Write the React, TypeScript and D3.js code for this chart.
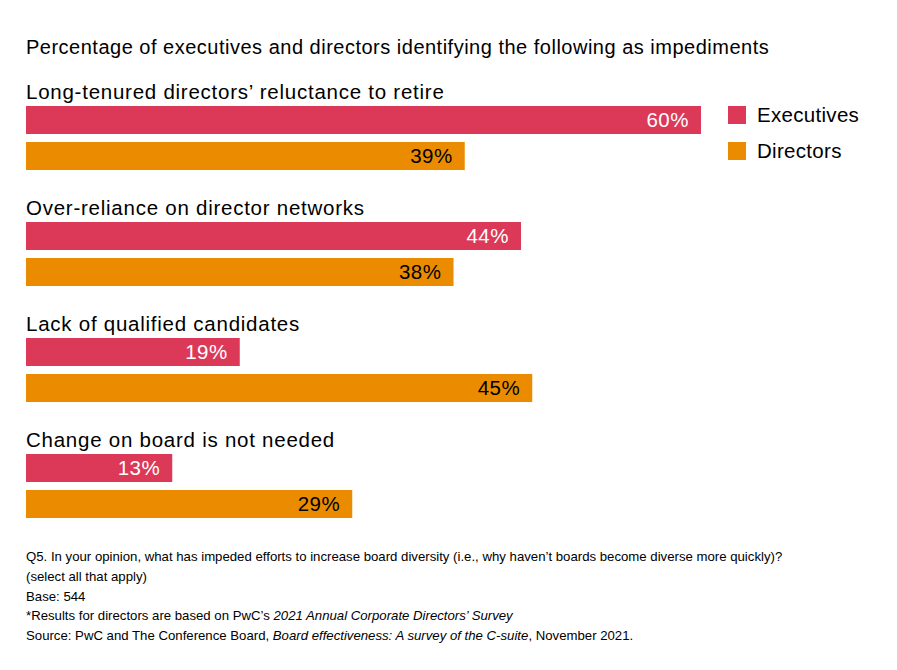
import React from "react";
import * as d3 from "d3";

const categories = [
  "Long-tenured directors’ reluctance to retire",
  "Over-reliance on director networks",
  "Lack of qualified candidates",
  "Change on board is not needed",
];
const executives = [60, 44, 19, 13];
const directors = [39, 38, 45, 29];
const seriesNames = ["Executives", "Directors"];
const colors = ["#DB3957", "#EB8C00"];
const labelColors = ["#ffffff", "#000000"];

export default function App() {
  const W = 897, H = 670;
  const x0 = 26;
  const x = d3.scaleLinear().domain([0, 60]).range([x0, 701]);
  const groupY = d3.scaleBand<number>().domain(d3.range(categories.length)).range([106, 106 + 116 * 4]).paddingInner(0).paddingOuter(0);
  const barH = 28;
  const barGap = 36;
  const font = "'Liberation Sans', Arial, Helvetica, sans-serif";
  const series = [executives, directors];

  const footer = [
    [{ t: "Q5. In your opinion, what has impeded efforts to increase board diversity (i.e., why haven’t boards become diverse more quickly)?", i: false }],
    [{ t: "(select all that apply)", i: false }],
    [{ t: "Base: 544", i: false }],
    [
      { t: "*Results for directors are based on PwC’s ", i: false },
      { t: "2021 Annual Corporate Directors’ Survey", i: true },
    ],
    [
      { t: "Source: PwC and The Conference Board, ", i: false },
      { t: "Board effectiveness: A survey of the C-suite", i: true },
      { t: ", November 2021.", i: false },
    ],
  ];

  return (
    <svg width={W} height={H} style={{ display: "block", position: "absolute", left: 0, top: 0, background: "#fff" }} fontFamily={font}>
      <text x={x0} y={54} fontSize={20} letterSpacing={0.5} fill="#000">
        Percentage of executives and directors identifying the following as impediments
      </text>
      {categories.map((c, i) => {
        const gy = groupY(i)!;
        return (
          <g key={c}>
            <text x={x0} y={gy - 7} fontSize={20.5} letterSpacing={0.75} fill="#000">{c}</text>
            {series.map((s, j) => {
              const y = gy + j * barGap;
              return (
                <g key={j}>
                  <rect x={x(0)} y={y} width={x(s[i]) - x(0)} height={barH} fill={colors[j]} />
                  <text x={x(s[i]) - 12} y={y + barH / 2 + 7} fontSize={20.5} letterSpacing={0.5} textAnchor="end" fill={labelColors[j]}>
                    {s[i]}%
                  </text>
                </g>
              );
            })}
          </g>
        );
      })}
      {seriesNames.map((n, j) => (
        <g key={n}>
          <rect x={728} y={106 + j * 36} width={18} height={18} fill={colors[j]} />
          <text x={757} y={106 + j * 36 + 16} fontSize={20.5} letterSpacing={0.3} fill="#000">{n}</text>
        </g>
      ))}
      {footer.map((line, k) => (
        <text key={k} x={x0} y={561 + k * 19.8} fontSize={13.2} fill="#000">
          {line.map((seg, m) => (
            <tspan key={m} fontStyle={seg.i ? "italic" : "normal"}>{seg.t}</tspan>
          ))}
        </text>
      ))}
    </svg>
  );
}
